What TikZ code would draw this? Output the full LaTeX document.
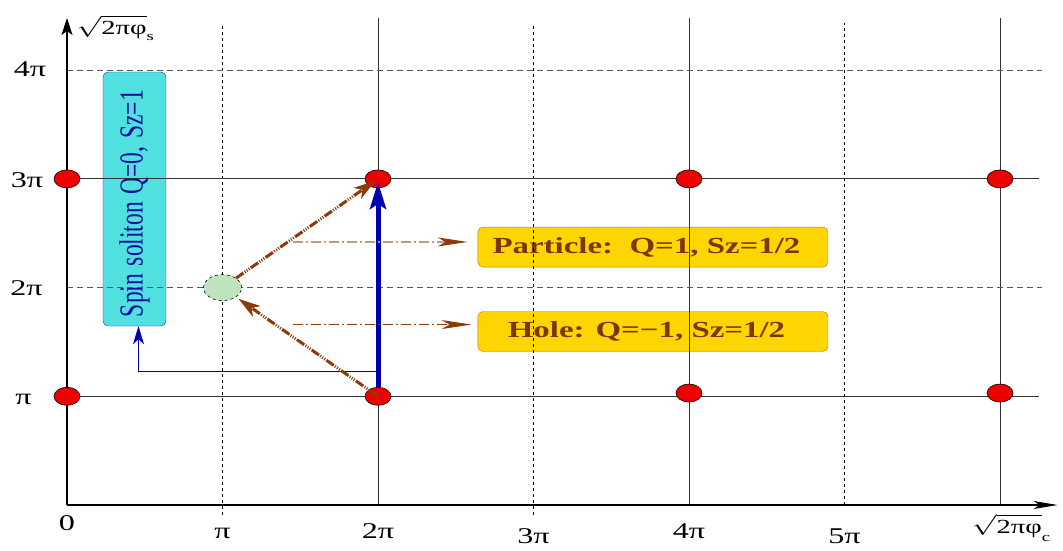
\documentclass[tikz,border=0pt]{standalone}
\usepackage{amsmath}
\usepackage{fontspec}
\setmainfont{Liberation Serif}
\usepackage{xcolor}
\usepackage{tikz}
\usetikzlibrary{shapes.geometric, arrows.meta, positioning, calc}

\definecolor{dotred}{HTML}{EE0000}
\definecolor{midgreen}{HTML}{BEE3BE}
\definecolor{spincyan}{HTML}{50E0E0}
\definecolor{spinedge}{HTML}{2A2AC8}
\definecolor{spintext}{HTML}{10109A}
\definecolor{boxgold}{HTML}{FFD500}
\definecolor{boxedge}{HTML}{B8741A}
\definecolor{brtext}{HTML}{7F3500}
\definecolor{brarrow}{HTML}{8B3A0A}
\definecolor{brlight}{HTML}{C49A80}
\definecolor{solblue}{HTML}{0000B0}

\begin{document}
\begin{tikzpicture}[x=155.5pt, y=108.7pt,
    dot/.style={draw, ellipse, fill=dotred, line width=0.6pt, minimum width=26pt, minimum height=18pt, inner sep=0pt},
    midstate/.style={draw, dashed, ellipse, fill=midgreen, line width=0.6pt, minimum width=38pt, minimum height=26pt, inner sep=0pt},
    lbl/.style={font=\fontsize{22.5}{24}\selectfont, xscale=1.43, inner sep=0pt, anchor=base},
    statebox/.style={draw=boxedge, fill=boxgold, rounded corners=5pt, text=brtext, font=\bfseries\fontsize{23}{26}\selectfont, xscale=1.43, minimum width=244.8pt, minimum height=40pt, inner sep=0pt, execute at end node={\hspace{9pt}}},
    spinbox/.style={draw=spinedge, fill=spincyan, rounded corners=5pt, text=spintext, font=\fontsize{23.5}{26}\selectfont, xscale=1.43, rotate=90, text width=236pt, align=left, inner xsep=9pt, inner ysep=0pt, minimum height=44pt},
    gridsolid/.style={draw=black!80, line width=0.8pt},
    gridvdash/.style={draw=black, line width=0.8pt, dash pattern=on 3pt off 3pt},
    gridhdash/.style={draw=black!65, line width=0.8pt, dash pattern=on 6pt off 4pt},
    axis/.style={draw=black, line width=1.2pt},
    upflow/.style={draw=solblue, line width=5pt, shorten >=3pt, -{Stealth[length=27pt, width=16pt, inset=5pt]}},
    brpath/.style={draw=brarrow, line width=3pt, shorten >=3pt, dash pattern=on 9pt off 1.5pt on 1pt off 1.5pt on 1pt off 1.5pt on 1pt off 1.5pt, -{Stealth[length=22pt, width=13pt, inset=6pt]}},
    hint/.style={line width=1.2pt, dash pattern=on 10pt off 3pt on 2pt off 3pt, -{Stealth[length=30pt, width=9pt, inset=8pt, color=brarrow]}},
    link/.style={draw=solblue, line width=0.8pt, -{Stealth[length=18pt, width=11pt, inset=5pt]}},
    ]
    \useasboundingbox (-0.4309,-0.414) rectangle (6.4051,4.6458);

    % boxes (under the grid)
    \node[spinbox] (spin) at (0.434, 2.815) {Spin soliton Q=0, Sz=1};
    \node[statebox] (part) at (3.768, 2.373) {Particle:\ \ Q=1, Sz=1/2};
    \node[statebox] (hole) at (3.768, 1.596) {Hole: Q=−1, Sz=1/2};

    % grid
    \foreach \i in {2,4,6} \draw[gridsolid] (\i,0) -- (\i,4.48);
    \foreach \i in {1,3} \draw[gridvdash] (\i,-0.09) -- (\i,4.43);
    \draw[gridvdash] (5,0) -- (5,4.43);
    \foreach \j in {1,3} \draw[gridsolid] (0,\j) -- (6.25,\j);
    \foreach \j in {2,4} \draw[gridhdash] (0,\j) -- (6.27,\j);

    % axes
    \coordinate (O) at (0,0);
    \draw[axis, -{Stealth[length=17pt, width=11pt, inset=4pt]}] (O) -- (0,4.48);
    \draw[axis, -{Stealth[length=24pt, width=8pt, inset=6pt]}] (O) -- (6.37,0);
    \node[lbl, font=\fontsize{20}{22}\selectfont] (ylab) at (0.31, 4.33) {$\sqrt{\smash[b]{\mbox{2πφ}}}$\raisebox{-6pt}{\fontsize{13}{13}\selectfont s}};
    \node[lbl, font=\fontsize{20}{22}\selectfont] (xlab) at (6.07, -0.258) {$\sqrt{\smash[b]{\mbox{2πφ}}}$\raisebox{-8pt}{\fontsize{13}{13}\selectfont c}};

    % tick labels
    \foreach \i/\t/\yy in {0/0/-0.239, 1/π/-0.304, 2/2π/-0.304, 3/3π/-0.35, 4/4π/-0.304, 5/5π/-0.35}
        \node[lbl] (x\i) at (\i,\yy) {\t};
    \node[lbl] (y4) at (-0.238, 3.94) {4π};
    \node[lbl] (y3) at (-0.257, 2.925) {3π};
    \node[lbl] (y2) at (-0.26, 1.93) {2π};
    \node[lbl] (y1) at (-0.28, 0.92) {π};

    % soliton dots
    \node[dot] (d01) at (0,1) {};
    \node[dot] (d03) at (0,3) {};
    \node[dot] (d21) at (2,1) {};
    \node[dot] (d23) at (2,3) {};
    \node[dot] (d41) at (4,1.03) {};
    \node[dot] (d43) at (4,3) {};
    \node[dot] (d61) at (6,1.03) {};
    \node[dot] (d63) at (6,3) {};
    \node[midstate] (mid) at (1,2) {};

    % transitions
    \draw[upflow] (d21.north) -- (d23.center);
    \coordinate (s0) at (2, 1.233);
    \draw[link] (s0) -| ([xshift=4pt]spin.west);
    \draw[brpath] (mid) -- (d23.center);
    \draw[brpath] (d21.center) -- (mid);

    \coordinate (p0) at (1.453, 2.42);
    \coordinate (h0) at (1.453, 1.66);
    \draw[hint, draw=brlight, shorten >=10pt] (p0) -- (p0 -| part.west);
    \draw[hint, draw=brarrow, shorten >=6pt] (h0) -- (h0 -| hole.west);
\end{tikzpicture}
\end{document}
